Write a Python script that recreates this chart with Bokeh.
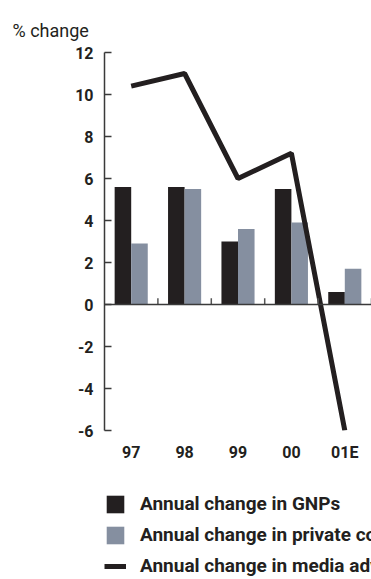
from bokeh.plotting import figure
from bokeh.layouts import column
from bokeh.models import Range1d, FixedTicker, Span, Legend, LegendItem, Title, ColumnDataSource
from bokeh.embed import file_html
from bokeh.resources import INLINE

years = ["97", "98", "99", "00", "01E"]
gnp = [5.6, 5.6, 3.0, 5.5, 0.6]
private_consumption = [2.9, 5.5, 3.6, 3.9, 1.7]
media_ad = [10.4, 11.0, 6.0, 7.2, -6.0]
y_ticks = [-6, -4, -2, 0, 2, 4, 6, 8, 10, 12]
y_title = "% change"
legend_labels = ["Annual change in GNPs",
                 "Annual change in private consumption",
                 "Annual change in media advertising expenditure"]

FONT = "Roboto"
DARK = "#231f20"
GRAY = "#858fa0"

centers = [i + 0.5 for i in range(len(years))]
bounds = [i + 1 for i in range(len(years))]

p = figure(width=371, height=479, output_backend="svg", toolbar_location=None,
           x_range=Range1d(0, len(years)), y_range=Range1d(-6, 12),
           min_border_left=104, min_border_right=0, min_border_top=52, min_border_bottom=49)
p.outline_line_color = None
p.grid.visible = False

src = ColumnDataSource(dict(x=centers, gnp=gnp, pc=private_consumption, ad=media_ad))
p.vbar(x=[c - 0.155 for c in centers], top=gnp, bottom=0, width=0.31,
       fill_color=DARK, line_color=None)
p.vbar(x=[c + 0.155 for c in centers], top=private_consumption, bottom=0, width=0.31,
       fill_color=GRAY, line_color=None)
p.line(x="x", y="ad", source=src, line_color=DARK, line_width=5)

p.add_layout(Span(location=0, dimension="width", line_color="#3a3a3a", line_width=1.5))
p.segment(x0=bounds, x1=bounds, y0=[0] * len(bounds), y1=[0.3] * len(bounds),
          line_color="#555555", line_width=1.5)

ya = p.yaxis[0]
ya.ticker = FixedTicker(ticks=y_ticks)
ya.major_label_overrides = {t: str(t) for t in y_ticks}
ya.major_tick_in = 7
ya.major_tick_out = 0
ya.minor_tick_line_color = None
ya.axis_line_color = "#3a3a3a"
ya.axis_line_width = 1.5
ya.major_tick_line_color = "#3a3a3a"
ya.major_tick_line_width = 1.5
ya.major_label_text_font = FONT
ya.major_label_text_font_size = "16px"
ya.major_label_text_font_style = "bold"
ya.major_label_text_color = DARK
ya.major_label_standoff = 11

xa = p.xaxis[0]
xa.ticker = FixedTicker(ticks=centers)
xa.major_label_overrides = {c: y for c, y in zip(centers, years)}
xa.axis_line_color = None
xa.major_tick_line_color = None
xa.minor_tick_line_color = None
xa.major_label_text_font = FONT
xa.major_label_text_font_size = "16px"
xa.major_label_text_font_style = "bold"
xa.major_label_text_color = DARK
xa.major_label_standoff = 6

t = Title(text=y_title, align="left", offset=-92, text_font=FONT, standoff=24,
          text_font_size="18px", text_font_style="normal", text_color=DARK)
p.add_layout(t, "above")

# legend strip (the swatch renderers sit outside the visible range)
q = figure(width=371, height=100, output_backend="svg", toolbar_location=None,
           x_range=Range1d(0, 1), y_range=Range1d(0, 1),
           min_border_left=104, min_border_right=0, min_border_top=13, min_border_bottom=0)
q.outline_line_color = None
q.grid.visible = False
q.axis.visible = False
g1 = q.vbar(x=[-5], top=[-5], bottom=-6, width=0.1, fill_color=DARK, line_color=None)
g2 = q.vbar(x=[-5], top=[-5], bottom=-6, width=0.1, fill_color=GRAY, line_color=None)
g3 = q.line(x=[-5, -4], y=[-5, -5], line_color=DARK, line_width=5)

legend = Legend(items=[
    LegendItem(label=legend_labels[0], renderers=[g1]),
    LegendItem(label=legend_labels[1], renderers=[g2]),
    LegendItem(label=legend_labels[2], renderers=[g3]),
], location="top_left", orientation="vertical")
legend.label_text_font = FONT
legend.label_text_font_size = "19px"
legend.label_text_font_style = "bold"
legend.label_text_color = DARK
legend.glyph_width = 22
legend.glyph_height = 22
legend.label_standoff = 14
legend.spacing = 8
legend.padding = 0
legend.margin = 0
legend.border_line_color = None
legend.background_fill_alpha = 0
q.add_layout(legend, "center")

layout = column(p, q, spacing=0)
open("out.html", "w").write(file_html(layout, INLINE))
